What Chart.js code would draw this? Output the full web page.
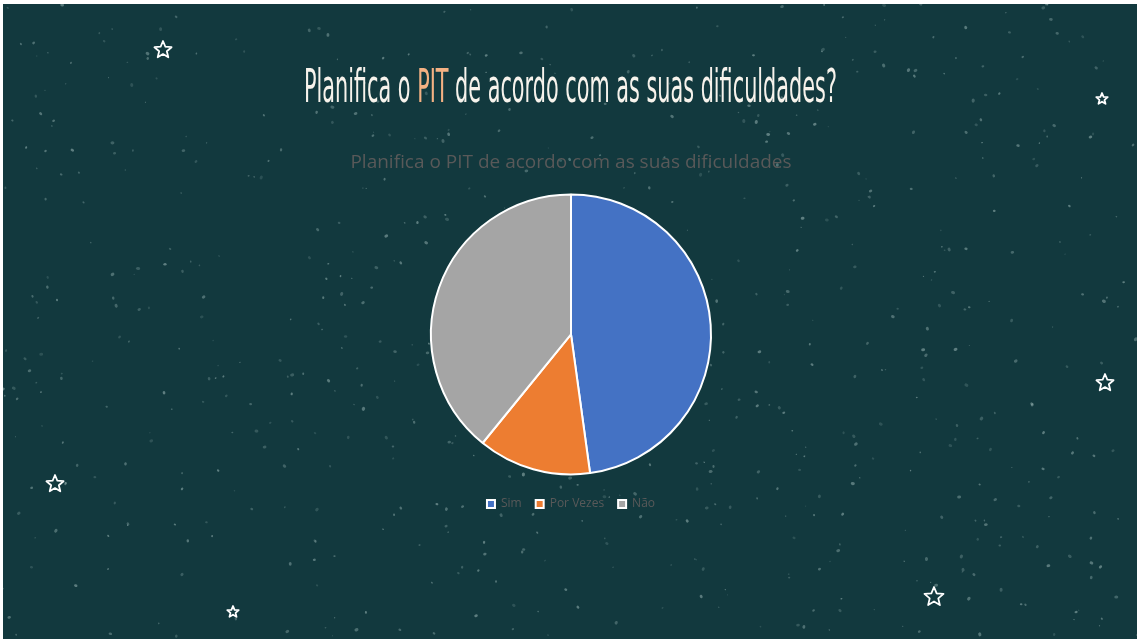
<!DOCTYPE html>
<html>
<head>
<meta charset="utf-8">
<script src="https://cdn.jsdelivr.net/npm/chart.js@4"></script>
<style>
    html, body { margin: 0; padding: 0; background: #ffffff; width: 1140px; height: 641px; overflow: hidden; }
    #slide { position: absolute; left: 3px; top: 4px; width: 1134px; height: 635px; background: #12393e; }
    #bg { position: absolute; left: 3px; top: 4px; }
    #heading {
        position: absolute; left: 0; top: 59px; width: 1140px; margin: 0;
        text-align: center; font-family: "Liberation Sans Narrow", "DejaVu Sans Condensed", sans-serif;
        font-weight: normal; font-size: 46px; line-height: 54px; color: #f7f3ec; white-space: nowrap;
    }
    #heading span.inner { display: inline-block; transform-origin: center; }
    #heading .pit { color: #f4b183; }
    #chart-box { position: absolute; left: 321px; top: 146px; width: 500px; height: 380px; }
</style>
</head>
<body>
<div id="slide"></div>
<canvas id="bg" width="1134" height="635"></canvas>
<h1 id="heading"><span class="inner">Planifica o <span class="pit">PIT</span> de acordo com as suas dificuldades?</span></h1>
<div id="chart-box"><canvas id="pieChart"></canvas></div>

<script>
const chartTitle = 'Planifica o PIT de acordo com as suas dificuldades';
const labels = ['Sim', 'Por Vezes', 'Não'];
const values = [11, 3, 9];
const colors = ['#4472c4', '#ed7d31', '#a5a5a5'];

// squeeze the heading so it is as narrow as the handwritten original
const inner = document.querySelector('#heading .inner');
inner.style.transform = 'scaleX(' + (533 / inner.getBoundingClientRect().width) + ')';

// background: speckles and outlined stars (decoration only)
function drawBackground() {
    const ctx = document.getElementById('bg').getContext('2d');
    let seed = 7;
    const next = () => { seed = (seed * 16807) % 2147483647; return seed / 2147483647; };
    for (let i = 0; i < 700; i++) {
        const x = next() * 1134, y = next() * 635;
        const r = 0.5 + next() * 1.1;
        ctx.fillStyle = 'rgba(190, 215, 212, ' + (0.15 + next() * 0.3) + ')';
        ctx.beginPath();
        ctx.ellipse(x, y, r * 1.3, r, next() * Math.PI, 0, Math.PI * 2);
        ctx.fill();
    }
    const stars = [[160, 46, 9], [1099, 95, 6], [1102, 379, 9], [52, 480, 9], [230, 608, 6], [931, 593, 10]];
    stars.forEach(s => {
        ctx.beginPath();
        for (let k = 0; k < 10; k++) {
            const rad = k % 2 === 0 ? s[2] : s[2] * 0.45;
            const a = -Math.PI / 2 + k * Math.PI / 5;
            const px = s[0] + rad * Math.cos(a), py = s[1] + rad * Math.sin(a);
            if (k === 0) ctx.moveTo(px, py); else ctx.lineTo(px, py);
        }
        ctx.closePath();
        ctx.strokeStyle = '#ffffff';
        ctx.lineWidth = 1.8;
        ctx.lineJoin = 'round';
        ctx.stroke();
    });
}
drawBackground();

const pieChart = new Chart(document.getElementById('pieChart'), {
    type: 'pie',
    data: {
        labels: labels,
        datasets: [{
            data: values,
            backgroundColor: colors,
            borderColor: '#ffffff',
            borderWidth: 2
        }]
    },
    options: {
        responsive: true,
        maintainAspectRatio: false,
        animation: false,
        radius: 140,
        layout: { padding: { top: 0, bottom: 6 } },
        plugins: {
            title: {
                display: true,
                text: chartTitle,
                color: '#595959',
                font: { family: 'Open Sans', size: 19, weight: 'normal' },
                padding: { top: 5, bottom: 11 }
            },
            legend: {
                position: 'bottom',
                labels: {
                    color: '#595959',
                    font: { family: 'Open Sans', size: 12 },
                    boxWidth: 8,
                    boxHeight: 8,
                    padding: 14
                }
            },
            tooltip: { enabled: false }
        }
    }
});
</script>
</body>
</html>
